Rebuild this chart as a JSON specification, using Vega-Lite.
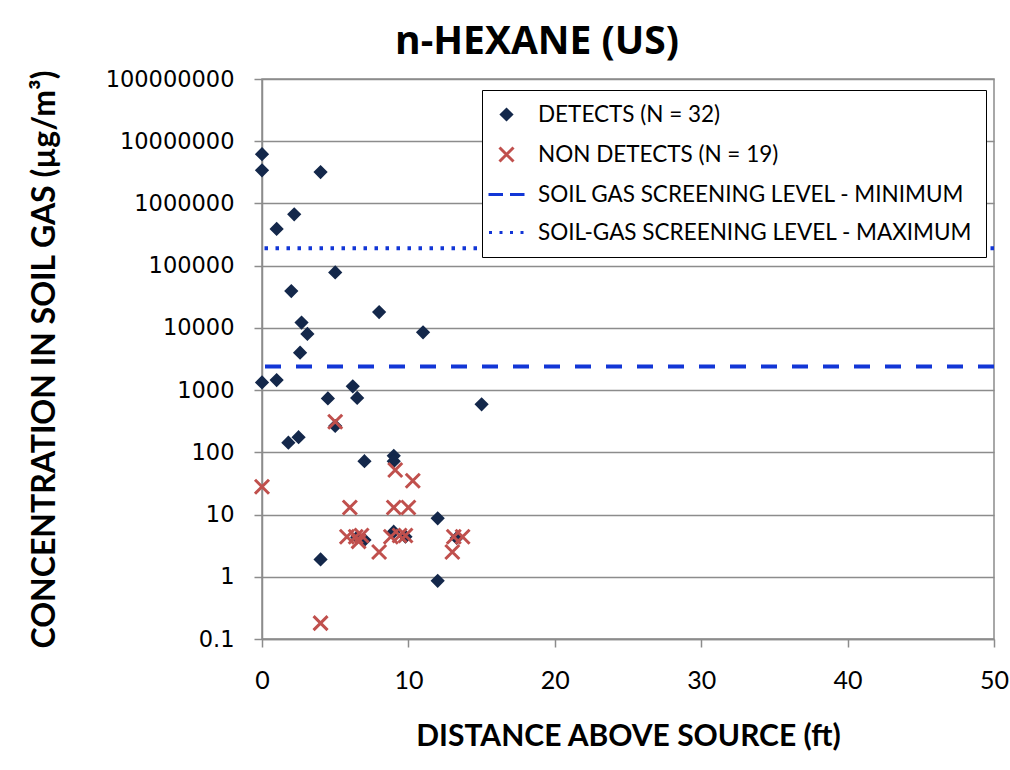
{
  "$schema": "https://vega.github.io/schema/vega-lite/v6.json",
  "width": 732,
  "height": 560,
  "autosize": {"type": "none"},
  "padding": {"left": 262, "top": 79, "right": 16, "bottom": 131},
  "background": "white",
  "title": {"text": "n-HEXANE (US)", "font": "Open Sans", "fontSize": 39, "fontWeight": "bold", "color": "black", "anchor": "middle", "frame": "group", "dx": -91, "offset": 6},
  "datasets": {
    "samples": [
      {"distance": 0, "conc": 6200000, "series": "DETECTS (N = 32)"},
      {"distance": 0, "conc": 3400000, "series": "DETECTS (N = 32)"},
      {"distance": 4, "conc": 3200000, "series": "DETECTS (N = 32)"},
      {"distance": 2.2, "conc": 670000, "series": "DETECTS (N = 32)"},
      {"distance": 1, "conc": 390000, "series": "DETECTS (N = 32)"},
      {"distance": 5, "conc": 78000, "series": "DETECTS (N = 32)"},
      {"distance": 2, "conc": 39000, "series": "DETECTS (N = 32)"},
      {"distance": 8, "conc": 18000, "series": "DETECTS (N = 32)"},
      {"distance": 2.7, "conc": 12200, "series": "DETECTS (N = 32)"},
      {"distance": 3.1, "conc": 8000, "series": "DETECTS (N = 32)"},
      {"distance": 11, "conc": 8500, "series": "DETECTS (N = 32)"},
      {"distance": 2.6, "conc": 4000, "series": "DETECTS (N = 32)"},
      {"distance": 0, "conc": 1330, "series": "DETECTS (N = 32)"},
      {"distance": 1, "conc": 1450, "series": "DETECTS (N = 32)"},
      {"distance": 4.5, "conc": 735, "series": "DETECTS (N = 32)"},
      {"distance": 6.2, "conc": 1150, "series": "DETECTS (N = 32)"},
      {"distance": 6.5, "conc": 750, "series": "DETECTS (N = 32)"},
      {"distance": 15, "conc": 590, "series": "DETECTS (N = 32)"},
      {"distance": 5, "conc": 265, "series": "DETECTS (N = 32)"},
      {"distance": 1.8, "conc": 143, "series": "DETECTS (N = 32)"},
      {"distance": 2.5, "conc": 175, "series": "DETECTS (N = 32)"},
      {"distance": 7, "conc": 72, "series": "DETECTS (N = 32)"},
      {"distance": 9, "conc": 88, "series": "DETECTS (N = 32)"},
      {"distance": 9, "conc": 72, "series": "DETECTS (N = 32)"},
      {"distance": 12, "conc": 8.7, "series": "DETECTS (N = 32)"},
      {"distance": 9, "conc": 5.3, "series": "DETECTS (N = 32)"},
      {"distance": 7, "conc": 3.9, "series": "DETECTS (N = 32)"},
      {"distance": 4, "conc": 1.9, "series": "DETECTS (N = 32)"},
      {"distance": 12, "conc": 0.86, "series": "DETECTS (N = 32)"},
      {"distance": 6.5, "conc": 4.3, "series": "DETECTS (N = 32)"},
      {"distance": 9.8, "conc": 4.4, "series": "DETECTS (N = 32)"},
      {"distance": 13.3, "conc": 4.2, "series": "DETECTS (N = 32)"},
      {"distance": 4, "conc": 0.18, "series": "NON DETECTS (N = 19)"},
      {"distance": 0, "conc": 28, "series": "NON DETECTS (N = 19)"},
      {"distance": 5, "conc": 310, "series": "NON DETECTS (N = 19)"},
      {"distance": 9.1, "conc": 52, "series": "NON DETECTS (N = 19)"},
      {"distance": 10.3, "conc": 35, "series": "NON DETECTS (N = 19)"},
      {"distance": 6, "conc": 13, "series": "NON DETECTS (N = 19)"},
      {"distance": 9, "conc": 13, "series": "NON DETECTS (N = 19)"},
      {"distance": 10, "conc": 13, "series": "NON DETECTS (N = 19)"},
      {"distance": 5.8, "conc": 4.4, "series": "NON DETECTS (N = 19)"},
      {"distance": 6.4, "conc": 4.4, "series": "NON DETECTS (N = 19)"},
      {"distance": 6.8, "conc": 4.6, "series": "NON DETECTS (N = 19)"},
      {"distance": 6.6, "conc": 3.7, "series": "NON DETECTS (N = 19)"},
      {"distance": 8.8, "conc": 4.4, "series": "NON DETECTS (N = 19)"},
      {"distance": 9.4, "conc": 4.6, "series": "NON DETECTS (N = 19)"},
      {"distance": 9.8, "conc": 4.6, "series": "NON DETECTS (N = 19)"},
      {"distance": 13.1, "conc": 4.4, "series": "NON DETECTS (N = 19)"},
      {"distance": 13.7, "conc": 4.4, "series": "NON DETECTS (N = 19)"},
      {"distance": 8, "conc": 2.5, "series": "NON DETECTS (N = 19)"},
      {"distance": 13, "conc": 2.5, "series": "NON DETECTS (N = 19)"}
    ],
    "levels": [
      {"conc": 2400, "series": "SOIL GAS SCREENING LEVEL - MINIMUM"},
      {"conc": 190000, "series": "SOIL-GAS SCREENING LEVEL - MAXIMUM"}
    ]
  },
  "encoding": {
    "y": {
      "field": "conc",
      "type": "quantitative",
      "scale": {"type": "log", "domain": [0.1, 100000000]},
      "axis": {
        "values": [0.1, 1, 10, 100, 1000, 10000, 100000, 1000000, 10000000, 100000000],
        "format": "~f",
        "grid": true,
        "gridColor": "#8c8c8c",
        "gridWidth": 1.5,
        "domainColor": "#8c8c8c",
        "domainWidth": 1.5,
        "tickColor": "#8c8c8c",
        "tickSize": 8,
        "tickWidth": 1.5,
        "labelFont": "DejaVu Sans",
        "labelFontSize": 22.5,
        "labelColor": "black",
        "labelPadding": 20,
        "title": "CONCENTRATION IN SOIL GAS (µg/m³)",
        "titleFont": "Lato",
        "titleFontSize": 32,
        "titleFontWeight": "bold",
        "titleColor": "black",
        "titlePadding": 44
      }
    }
  },
  "layer": [
    {
      "data": {"name": "levels"},
      "mark": {"type": "rule", "strokeWidth": 4, "color": "#1236d6"},
      "encoding": {
        "strokeDash": {
          "field": "series",
          "type": "nominal",
          "scale": {"domain": ["SOIL GAS SCREENING LEVEL - MINIMUM", "SOIL-GAS SCREENING LEVEL - MAXIMUM"], "range": [[16, 15], [3.5, 7.5]]},
          "legend": null
        }
      }
    },
    {
      "data": {"name": "samples"},
      "mark": {"type": "point", "filled": true, "size": 400, "strokeWidth": 3, "opacity": 1},
      "encoding": {
        "x": {
          "field": "distance",
          "type": "quantitative",
          "scale": {"domain": [0, 50], "nice": false},
          "axis": {
            "values": [0, 10, 20, 30, 40, 50],
            "grid": false,
            "labelFlush": false,
            "domainColor": "#8c8c8c",
            "domainWidth": 1.5,
            "tickColor": "#8c8c8c",
            "tickSize": 8,
            "tickWidth": 1.5,
            "labelFont": "Lato",
            "labelFontSize": 25,
            "labelColor": "black",
            "labelPadding": 21,
            "title": "DISTANCE ABOVE SOURCE (ft)",
            "titleFont": "Lato",
            "titleFontSize": 30,
            "titleFontWeight": "bold",
            "titleColor": "black",
            "titlePadding": 28
          }
        },
        "fill": {
          "field": "series",
          "type": "nominal",
          "scale": {"domain": ["DETECTS (N = 32)", "NON DETECTS (N = 19)", "SOIL GAS SCREENING LEVEL - MINIMUM", "SOIL-GAS SCREENING LEVEL - MAXIMUM"], "range": ["#14284b", "#c0504d", "#1236d6", "#1236d6"]},
          "legend": {"title": null}
        },
        "stroke": {
          "field": "series",
          "type": "nominal",
          "scale": {"domain": ["DETECTS (N = 32)", "NON DETECTS (N = 19)", "SOIL GAS SCREENING LEVEL - MINIMUM", "SOIL-GAS SCREENING LEVEL - MAXIMUM"], "range": ["#14284b", "#c0504d", "#1236d6", "#1236d6"]},
          "legend": {"title": null}
        },
        "shape": {
          "field": "series",
          "type": "nominal",
          "scale": {
            "domain": ["DETECTS (N = 32)", "NON DETECTS (N = 19)", "SOIL GAS SCREENING LEVEL - MINIMUM", "SOIL-GAS SCREENING LEVEL - MAXIMUM"],
            "range": [
              "M0,-0.5L0.5,0L0,0.5L-0.5,0Z",
              "M-0.7,-0.7L0.7,0.7M-0.7,0.7L0.7,-0.7",
              "M-1.8,0H-0.35M0.35,0H1.8",
              "M-1.75,0H-1.45M-0.7,0H-0.4M0.35,0H0.65M1.4,0H1.7"
            ]
          },
          "legend": {"title": null}
        }
      }
    }
  ],
  "config": {
    "view": {"stroke": "#8c8c8c", "strokeWidth": 1.5},
    "legend": {
      "orient": "none",
      "legendX": 220,
      "legendY": 11,
      "strokeColor": "black",
      "fillColor": "white",
      "padding": 13,
      "labelFont": "Lato",
      "labelFontSize": 22.5,
      "labelColor": "black",
      "labelLimit": 0,
      "labelOffset": 20,
      "symbolSize": 400,
      "symbolStrokeWidth": 3,
      "rowPadding": 15
    }
  }
}
